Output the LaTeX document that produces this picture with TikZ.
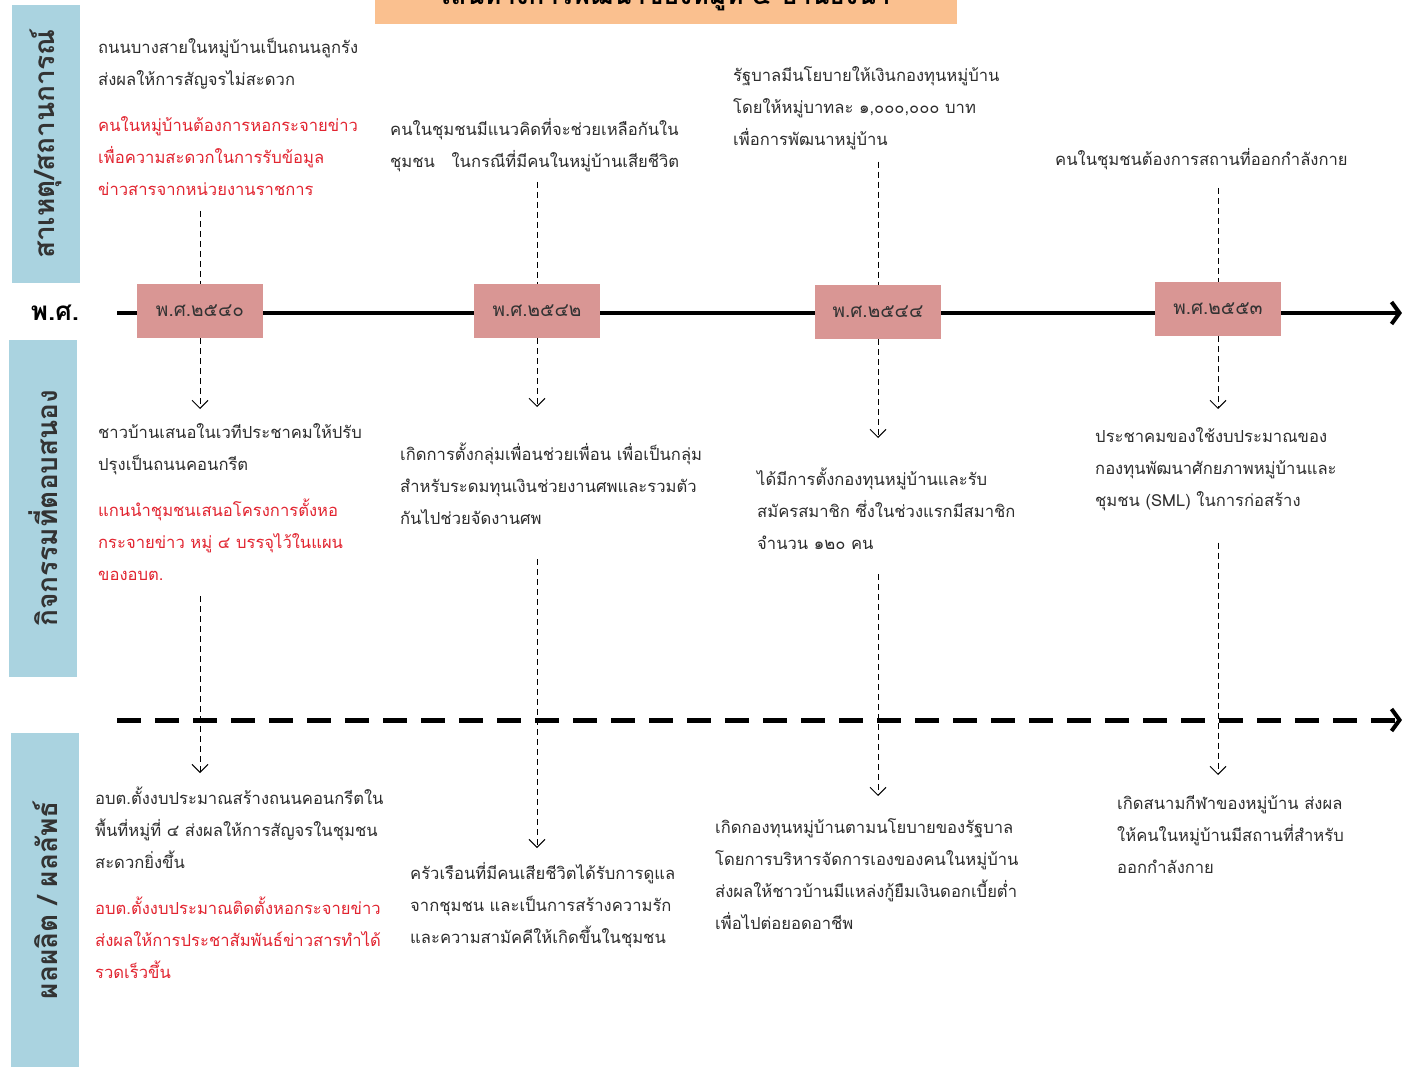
\documentclass[tikz,border=0pt]{standalone}
\usepackage{fontspec}
\setmainfont[Script=Thai]{Loma}
\usepackage{xcolor}
\usetikzlibrary{shapes, arrows.meta, positioning}

\definecolor{sideblue}{RGB}{170,211,224}
\definecolor{yearpink}{RGB}{217,150,148}
\definecolor{titleorange}{RGB}{250,192,143}
\definecolor{txtred}{RGB}{226,36,48}
\definecolor{txtgray}{RGB}{45,45,45}

\begin{document}
\begin{tikzpicture}[x=1pt, y=-1pt,
    txt/.style={anchor=north west, inner sep=0pt, align=left, text=txtgray, font=\fontsize{16.6}{32}\selectfont},
    yearbox/.style={fill=yearpink, minimum width=126pt, minimum height=54pt, text=black!80, font=\fontsize{19}{20}\selectfont},
    sidelabel/.style={fill=sideblue, rotate=90, minimum height=68pt, text=black!80, font=\bfseries\fontsize{28}{30}\selectfont},
    link/.style={dash pattern=on 6pt off 4pt, line width=1pt},
    flow/.style={link, -{Straight Barb[length=8pt, width=16pt]}},
    timeline/.style={line width=4pt, -{Straight Barb[length=8pt, width=22pt, line width=4pt]}}]

\useasboundingbox[fill=white] (0,0) rectangle (1402,1067);

% title, cut by the upper edge
\begin{scope}
    \clip (375,0) rectangle (957,24);
    \node[fill=titleorange, minimum width=582pt, minimum height=60pt, font=\bfseries\fontsize{26}{28}\selectfont] (title) at (666,-6) {เส้นทางการพัฒนาของหมู่ที่ ๔ บ้านธงน้ำ};
\end{scope}

% side labels
\node[sidelabel, minimum width=278pt] (cause) at (46,144) {สาเหตุ/สถานการณ์};
\node[sidelabel, minimum width=337pt] (act) at (43,508) {กิจกรรมที่ตอบสนอง};
\node[sidelabel, minimum width=334pt] (res) at (45,900) {ผลผลิต / ผลลัพธ์};
\node[font=\bfseries\fontsize{26}{28}\selectfont, text=black] (ps) at (55,313) {พ.ศ.};

% the two time axes
\coordinate (tlstart) at (117,313);
\coordinate (tlend) at (1402,313);
\draw[timeline] (tlstart) -- (tlend);
\coordinate (dlstart) at (117,720);
\coordinate (dlend) at (1402,720);
\draw[timeline, dash pattern=on 24pt off 14pt, line width=5pt] (dlstart) -- (dlend);

% years
\node[yearbox] (yr1) at (200,311) {พ.ศ.๒๕๔๐};
\node[yearbox] (yr2) at (537,311) {พ.ศ.๒๕๔๒};
\node[yearbox] (yr3) at (878,312) {พ.ศ.๒๕๔๔};
\node[yearbox] (yr4) at (1218,309) {พ.ศ.๒๕๕๓};

% causes
\node[txt] (a1) at (98,38) {ถนนบางสายในหมู่บ้านเป็นถนนลูกรัง\\
    ส่งผลให้การสัญจรไม่สะดวก\\[14pt]
    \textcolor{txtred}{คนในหมู่บ้านต้องการหอกระจายข่าว}\\
    \textcolor{txtred}{เพื่อความสะดวกในการรับข้อมูล}\\
    \textcolor{txtred}{ข่าวสารจากหน่วยงานราชการ}};
\node[txt] (a2) at (390,118) {คนในชุมชนมีแนวคิดที่จะช่วยเหลือกันใน\\
    ชุมชน\quad ในกรณีที่มีคนในหมู่บ้านเสียชีวิต};
\node[txt] (a3) at (733,66) {รัฐบาลมีนโยบายให้เงินกองทุนหมู่บ้าน\\
    โดยให้หมู่บาทละ ๑,๐๐๐,๐๐๐ บาท\\
    เพื่อการพัฒนาหมู่บ้าน};
\node[txt] (a4) at (1055,148) {คนในชุมชนต้องการสถานที่ออกกำลังกาย};

% activities
\node[txt] (b1) at (98,423) {ชาวบ้านเสนอในเวทีประชาคมให้ปรับ\\
    ปรุงเป็นถนนคอนกรีต\\[14pt]
    \textcolor{txtred}{แกนนำชุมชนเสนอโครงการตั้งหอ}\\
    \textcolor{txtred}{กระจายข่าว หมู่ ๔ บรรจุไว้ในแผน}\\
    \textcolor{txtred}{ของอบต.}};
\node[txt] (b2) at (400,443) {เกิดการตั้งกลุ่มเพื่อนช่วยเพื่อน  เพื่อเป็นกลุ่ม\\
    สำหรับระดมทุนเงินช่วยงานศพและรวมตัว\\
    กันไปช่วยจัดงานศพ};
\node[txt] (b3) at (757,468) {ได้มีการตั้งกองทุนหมู่บ้านและรับ\\
    สมัครสมาชิก ซึ่งในช่วงแรกมีสมาชิก\\
    จำนวน ๑๒๐ คน};
\node[txt] (b4) at (1095,427) {ประชาคมของใช้งบประมาณของ\\
    กองทุนพัฒนาศักยภาพหมู่บ้านและ\\
    ชุมชน (SML) ในการก่อสร้าง};

% results
\node[txt] (c1) at (95,787) {อบต.ตั้งงบประมาณสร้างถนนคอนกรีตใน\\
    พื้นที่หมู่ที่ ๔ ส่งผลให้การสัญจรในชุมชน\\
    สะดวกยิ่งขึ้น\\[14pt]
    \textcolor{txtred}{อบต.ตั้งงบประมาณติดตั้งหอกระจายข่าว}\\
    \textcolor{txtred}{ส่งผลให้การประชาสัมพันธ์ข่าวสารทำได้}\\
    \textcolor{txtred}{รวดเร็วขึ้น}};
\node[txt] (c2) at (410,862) {ครัวเรือนที่มีคนเสียชีวิตได้รับการดูแล\\
    จากชุมชน และเป็นการสร้างความรัก\\
    และความสามัคคีให้เกิดขึ้นในชุมชน};
\node[txt] (c3) at (715,818) {เกิดกองทุนหมู่บ้านตามนโยบายของรัฐบาล\\
    โดยการบริหารจัดการเองของคนในหมู่บ้าน\\
    ส่งผลให้ชาวบ้านมีแหล่งกู้ยืมเงินดอกเบี้ยต่ำ\\
    เพื่อไปต่อยอดอาชีพ};
\node[txt] (c4) at (1117,795) {เกิดสนามกีฬาของหมู่บ้าน ส่งผล\\
    ให้คนในหมู่บ้านมีสถานที่สำหรับ\\
    ออกกำลังกาย};

% cause -> year
\draw[link, shorten <=15pt] (a1.south -| yr1) -- (yr1.north);
\draw[link, shorten <=10pt] (a2.south -| yr2) -- (yr2.north);
\draw[link, shorten <=12pt] (a3.south -| yr3) -- (yr3.north);
\draw[link, shorten <=18pt] (a4.south -| yr4) -- (yr4.north);

% year -> activity
\draw[flow, shorten >=14pt] (yr1.south) -- (yr1.south |- b1.north);
\draw[flow, shorten >=36pt] (yr2.south) -- (yr2.south |- b2.north);
\draw[flow, shorten >=30pt] (yr3.south) -- (yr3.south |- b3.north);
\draw[flow, shorten >=18pt] (yr4.south) -- (yr4.south |- b4.north);

% activity -> result
\draw[flow, shorten <=16pt, shorten >=14pt] (b1.south -| yr1) -- (yr1 |- c1.north);
\draw[flow, shorten <=34pt, shorten >=14pt] (b2.south -| yr2) -- (yr2 |- c2.north);
\draw[flow, shorten <=24pt, shorten >=22pt] (b3.south -| yr3) -- (yr3 |- c3.north);
\draw[flow, shorten <=32pt, shorten >=20pt] (b4.south -| yr4) -- (yr4 |- c4.north);

\end{tikzpicture}
\end{document}
